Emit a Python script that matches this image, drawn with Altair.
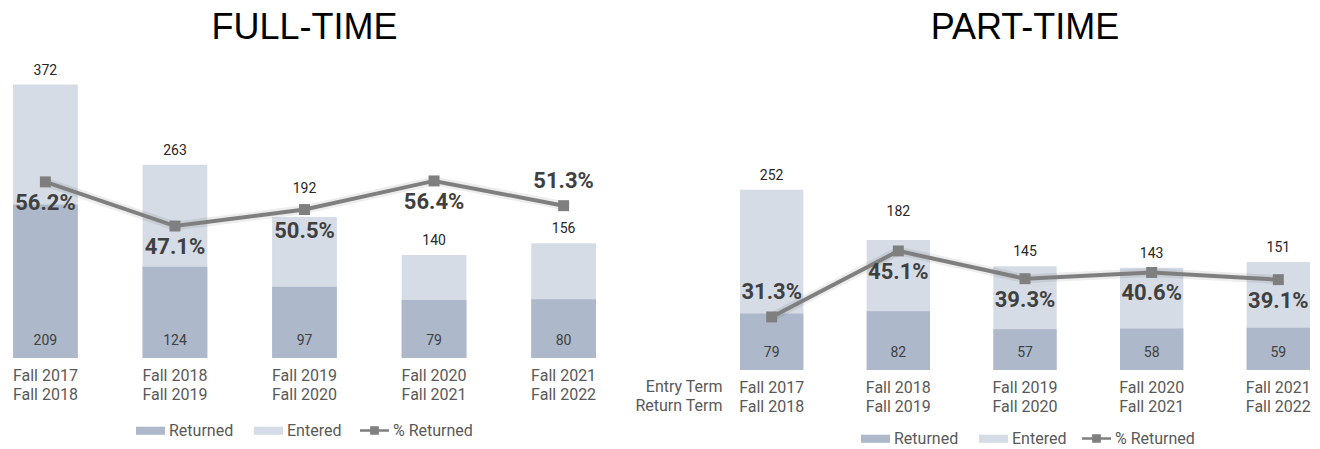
import json
import altair as alt
import pandas as pd

# ---------------- data ----------------
entry_terms = ["Fall 2017", "Fall 2018", "Fall 2019", "Fall 2020", "Fall 2021"]
return_terms = ["Fall 2018", "Fall 2019", "Fall 2020", "Fall 2021", "Fall 2022"]

ft_entered = [372, 263, 192, 140, 156]
ft_returned = [209, 124, 97, 79, 80]
ft_pct = [56.2, 47.1, 50.5, 56.4, 51.3]

pt_entered = [252, 182, 145, 143, 151]
pt_returned = [79, 82, 57, 58, 59]
pt_pct = [31.3, 45.1, 39.3, 40.6, 39.1]

bar_series = ["Returned", "Entered"]
line_series = "% Returned"

# layout: entry terms whose % label sits above the marker,
# and whose total label is lifted clear of the line
ft_above = ["Fall 2021"]
pt_above = ["Fall 2017"]
ft_lift = ["Fall 2019"]
pt_lift = ["Fall 2018"]

COL_RET = "#adb9ca"
COL_ENT = "#d6dce5"
COL_LINE = "#7f7f7f"
FONT = "Roboto"
RECT_PATH = "M-1,-0.28H1V0.28H-1Z"
LINE_SQ_PATH = "M-1,-0.09H1V0.09H-1Z M-0.3,-0.3H0.3V0.3H-0.3Z"


def make_df(entered, returned, pct):
    return pd.DataFrame({
        "term": [f"{a}|{b}" for a, b in zip(entry_terms, return_terms)],
        "entry": entry_terms,
        "Entered": entered,
        "Returned": returned,
        "pct": pct,
        "pct_label": [f"{p:.1f}%" for p in pct],
    })


def in_list(lst):
    return f"indexof({json.dumps(lst)}, datum.entry) >= 0"


def panel(df, title, width, height, ymax, pmin, pmax, above, lift, xtitle,
          leg_x, leg_x2, leg_y):
    order = list(df["term"])
    axis_kw = dict(
        labelExpr="split(datum.label, '|')",
        labelAngle=0, labelFont=FONT, labelFontSize=16, labelColor="#595959",
        labelLineHeight=19, labelBaseline="top", labelPadding=9,
        ticks=False, domain=False, grid=False,
    )
    if xtitle is not None:
        axis_kw.update(title=xtitle, titleX=-18, titleY=8, titleAlign="right",
                       titleBaseline="top", titleAngle=0, titleFont=FONT,
                       titleFontSize=16, titleFontWeight="normal",
                       titleColor="#595959", titleLineHeight=19)
    else:
        axis_kw.update(title=None)
    x = alt.X("term:N", sort=order,
              scale=alt.Scale(paddingInner=0.5, paddingOuter=0),
              axis=alt.Axis(**axis_kw))
    yscale = alt.Scale(domain=[0, ymax], nice=False, zero=True)
    pscale = alt.Scale(domain=[pmin, pmax], nice=False, zero=False)
    cscale = alt.Scale(domain=bar_series, range=[COL_RET, COL_ENT])
    leg_common = dict(title=None, orient="none", direction="horizontal",
                      labelFont=FONT, labelFontSize=16, labelColor="#595959",
                      symbolSize=841, labelOffset=4, columnPadding=20,
                      symbolStrokeWidth=0, symbolOpacity=1, legendY=leg_y)
    cleg = alt.Legend(symbolType=RECT_PATH, legendX=leg_x, **leg_common)
    sleg = alt.Legend(symbolType=LINE_SQ_PATH, symbolFillColor=COL_LINE,
                      symbolStrokeColor=COL_LINE, legendX=leg_x2, **leg_common)

    base = alt.Chart(df)
    ent_bar = base.transform_calculate(series="'Entered'").mark_bar().encode(
        x=x, y=alt.Y("Entered:Q", scale=yscale, axis=None),
        color=alt.Color("series:N", scale=cscale, legend=cleg))
    ret_bar = base.transform_calculate(series="'Returned'").mark_bar().encode(
        x=x, y=alt.Y("Returned:Q", scale=yscale, axis=None),
        color=alt.Color("series:N", scale=cscale, legend=cleg))
    ent_txt = base.transform_filter(f"!({in_list(lift)})").mark_text(
        dy=-14, baseline="middle", font=FONT, fontSize=14, color="#262626").encode(
        x=x, y=alt.Y("Entered:Q", scale=yscale, axis=None), text="Entered:Q")
    ent_txt_lift = base.transform_filter(in_list(lift)).mark_text(
        dy=-28, baseline="middle", font=FONT, fontSize=14, color="#262626").encode(
        x=x, y=alt.Y("Entered:Q", scale=yscale, axis=None), text="Entered:Q")
    ret_txt = base.transform_calculate(zero="0").mark_text(
        dy=-17, baseline="middle", font=FONT, fontSize=14, color="#404040").encode(
        x=x, y=alt.Y("zero:Q", scale=yscale, axis=None), text="Returned:Q")
    glow = base.mark_line(color="#000000", strokeWidth=9, opacity=0.07).encode(
        x=x, y=alt.Y("pct:Q", scale=pscale, axis=None))
    line = base.mark_line(color=COL_LINE, strokeWidth=4).encode(
        x=x, y=alt.Y("pct:Q", scale=pscale, axis=None))
    pts = base.mark_point(shape="square", filled=True, size=120, opacity=1,
                          color=COL_LINE).encode(
        x=x, y=alt.Y("pct:Q", scale=pscale, axis=None))
    legend_key = base.transform_calculate(lser=f"'{line_series}'").mark_point(
        filled=True, opacity=0, color=COL_LINE).encode(
        x=x, y=alt.Y("pct:Q", scale=pscale, axis=None),
        shape=alt.Shape("lser:N",
                        scale=alt.Scale(domain=[line_series], range=[LINE_SQ_PATH]),
                        legend=sleg))
    pct_below = base.transform_filter(f"!({in_list(above)})").mark_text(
        dy=21, baseline="middle", font=FONT, fontSize=22, fontWeight="bold",
        color="#404040").encode(
        x=x, y=alt.Y("pct:Q", scale=pscale, axis=None), text="pct_label:N")
    pct_above = base.transform_filter(in_list(above)).mark_text(
        dy=-25, baseline="middle", font=FONT, fontSize=22, fontWeight="bold",
        color="#404040").encode(
        x=x, y=alt.Y("pct:Q", scale=pscale, axis=None), text="pct_label:N")
    return alt.layer(ent_bar, ret_bar, ent_txt, ent_txt_lift, ret_txt, glow, line,
                     pts, legend_key, pct_below, pct_above).resolve_scale(
        y="independent").properties(
        width=width, height=height,
        title=alt.TitleParams(title, font="Liberation Sans", fontSize=36,
                              fontWeight="normal", color="#000000",
                              offset=17, anchor="middle"))


ft = panel(make_df(ft_entered, ft_returned, ft_pct), "FULL-TIME",
           583, 294, 400, 19.9, 80.5, ft_above, ft_lift, None, 123, 347, 352)
pt = panel(make_df(pt_entered, pt_returned, pt_pct), "PART-TIME",
           570, 306, 428, 20.2, 84.2, pt_above, pt_lift,
           ["Entry Term", "Return Term"], 121, 342, 360)

chart = alt.hconcat(ft, pt, spacing=38).resolve_scale(
    color="independent", shape="independent").resolve_legend(
    color="independent", shape="independent").properties(
    padding={"left": 12, "top": 9, "right": 5, "bottom": 0}
).configure_view(stroke=None)

chart.save("out.html", embed_options={"renderer": "svg", "actions": False})
